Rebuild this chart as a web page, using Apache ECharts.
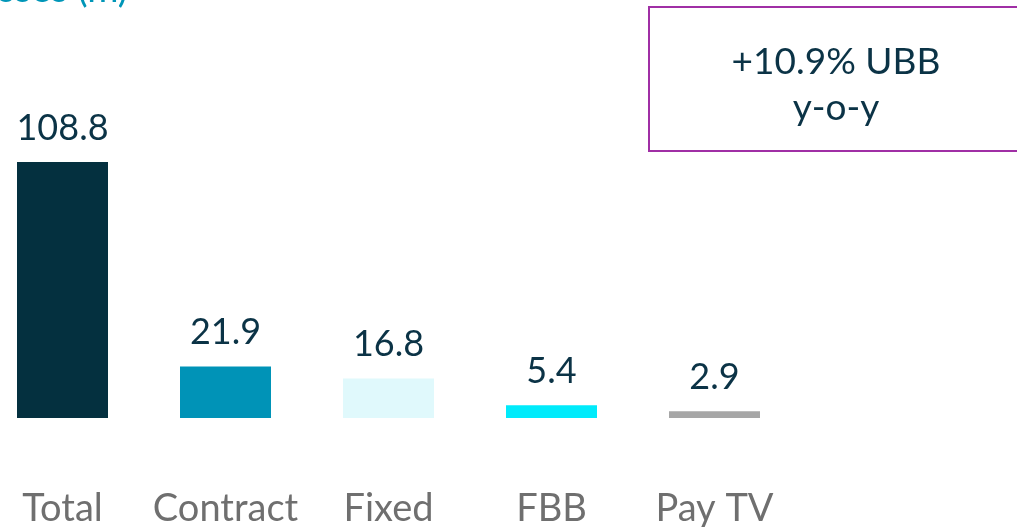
<!DOCTYPE html>
<html>
<head>
<meta charset="utf-8">
<script src="https://cdn.jsdelivr.net/npm/echarts@6/dist/echarts.min.js"></script>
<style>
  html, body { margin: 0; padding: 0; background: #fff; }
  #chart { width: 1017px; height: 527px; }
</style>
</head>
<body>
<div id="chart"></div>
<script>
// chart data
const categories = ['Total', 'Contract', 'Fixed', 'FBB', 'Pay TV'];
const values = [108.8, 21.9, 16.8, 5.4, 2.9];
const barColors = ['#04303f', '#0093b7', '#e0f9fc', '#00ebfb', '#a6a6a6'];
const titleText = 'Accesses (m)';
const noteLines = ['+10.9% UBB', 'y-o-y'];

const chart = echarts.init(document.getElementById('chart'));

const option = {
  animation: false,
  textStyle: { fontFamily: 'Lato' },
  grid: { left: -19, width: 815, top: 162, bottom: 109, outerBoundsMode: 'none', containLabel: false },
  xAxis: {
    type: 'category',
    data: categories,
    axisLine: { show: false },
    axisTick: { show: false },
    axisLabel: {
      interval: 0,
      color: '#6f6f6f',
      fontSize: 38,
      fontFamily: 'Lato',
      margin: 72
    }
  },
  yAxis: {
    type: 'value',
    min: 0,
    max: 108.8,
    show: false,
    splitLine: { show: false }
  },
  series: [{
    type: 'bar',
    barWidth: 91,
    data: values.map((v, i) => ({ value: v, itemStyle: { color: barColors[i] } })),
    label: {
      show: true,
      position: 'top',
      distance: 16,
      color: '#0b3346',
      fontSize: 36,
      fontFamily: 'Lato',
      formatter: p => p.value.toFixed(1)
    }
  }],
  graphic: [
    {
      type: 'text',
      x: 128,
      y: 9,
      style: {
        text: titleText,
        align: 'right',
        verticalAlign: 'bottom',
        fill: '#0096b8',
        font: '38px Lato'
      }
    },
    {
      type: 'rect',
      shape: { x: 649, y: 7, width: 380, height: 144 },
      style: { fill: '#fff', stroke: '#a02fa5', lineWidth: 2 }
    },
    {
      type: 'text',
      x: 836,
      y: 62,
      style: {
        text: noteLines[0],
        align: 'center',
        verticalAlign: 'middle',
        fill: '#0b3346',
        font: '37px Lato'
      }
    },
    {
      type: 'text',
      x: 836,
      y: 108,
      style: {
        text: noteLines[1],
        align: 'center',
        verticalAlign: 'middle',
        fill: '#0b3346',
        font: '37px Lato'
      }
    }
  ]
};

chart.setOption(option);
</script>
</body>
</html>
